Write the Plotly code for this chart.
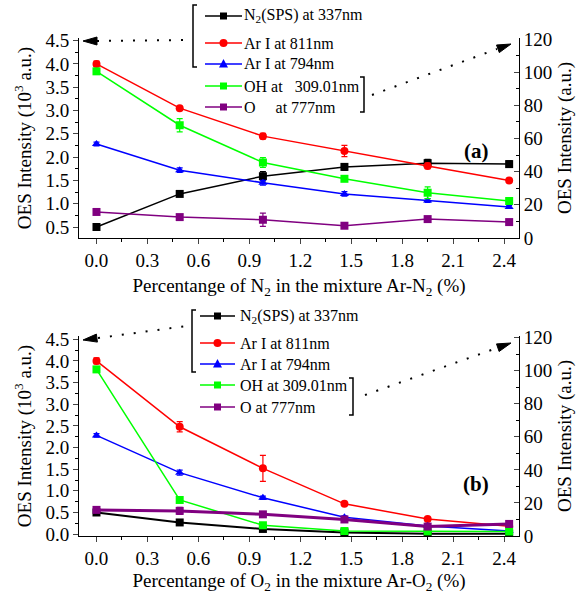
import plotly.graph_objects as go

# ---------------- data ----------------
x_a = [0, 0.49, 0.98, 1.46, 1.95, 2.43]
x_b = [0, 0.49, 0.98, 1.46, 1.95, 2.43]

n2_a = [0.50, 1.21, 1.59, 1.79, 1.87, 1.85]
n2_a_err = [0.03, 0.04, 0.10, 0.07, 0.08, 0.07]
ar811_a = [4.00, 3.05, 2.45, 2.13, 1.81, 1.50]
ar811_a_err = [0.06, 0.03, 0.06, 0.12, 0.06, 0.03]
ar794_a = [2.28, 1.72, 1.45, 1.21, 1.07, 0.93]
ar794_a_err = [0.04, 0.05, 0.05, 0.05, 0.04, 0.03]
oh_a = [100.5, 68.0, 45.5, 35.7, 27.3, 22.3]
oh_a_err = [1.5, 4.0, 3.0, 1.5, 3.5, 2.0]
o_a = [15.7, 12.6, 11.0, 7.4, 11.4, 9.6]
o_a_err = [1.5, 1.5, 4.0, 1.0, 1.0, 1.0]

n2_b = [0.50, 0.27, 0.12, 0.04, 0.01, 0.01]
n2_b_err = [0.03, 0.03, 0.02, 0.02, 0.01, 0.01]
ar811_b = [4.00, 2.48, 1.52, 0.70, 0.35, 0.18]
ar811_b_err = [0.07, 0.12, 0.30, 0.03, 0.03, 0.02]
ar794_b = [2.28, 1.42, 0.84, 0.39, 0.19, 0.07]
ar794_b_err = [0.04, 0.06, 0.04, 0.03, 0.03, 0.02]
oh_b = [100.8, 21.8, 6.5, 3.0, 2.8, 2.7]
oh_b_err = [1.0, 1.0, 1.0, 0.5, 0.5, 0.5]
o_b = [15.8, 15.2, 13.1, 10.0, 5.7, 7.3]
o_b_err = [1.0, 2.2, 1.0, 1.0, 1.0, 0.5]

names_a = ["N<sub>2</sub>(SPS) at 337nm", "Ar I at 811nm", "Ar I at 794nm",
           "OH at&nbsp;&nbsp; 309.01nm", "O&nbsp;&nbsp;&nbsp;&nbsp;&nbsp;at 777nm"]
names_b = ["N<sub>2</sub>(SPS) at 337nm", "Ar I at 811nm", "Ar I at 794nm",
           "OH at 309.01nm", "O at 777nm"]
colors = ["#000000", "#ff0000", "#0000ff", "#00ff00", "#800080"]
symbols = ["square", "circle", "triangle-up", "square", "square"]

W, H = 581, 594
L, R = 79, 62
FONT = "Liberation Serif, Times New Roman, serif"


def px(p):
    return (p - L) / (W - L - R)


def py(p):
    return 1 - p / H


fig = go.Figure()

series_a = [(n2_a, n2_a_err, "y"), (ar811_a, ar811_a_err, "y"), (ar794_a, ar794_a_err, "y"),
            (oh_a, oh_a_err, "y2"), (o_a, o_a_err, "y2")]
series_b = [(n2_b, n2_b_err, "y3"), (ar811_b, ar811_b_err, "y3"), (ar794_b, ar794_b_err, "y3"),
            (oh_b, oh_b_err, "y4"), (o_b, o_b_err, "y4")]

for i, (vals, err, yax) in enumerate(series_a):
    fig.add_trace(go.Scatter(
        x=x_a, y=vals, xaxis="x", yaxis=yax, name=names_a[i], showlegend=False,
        mode="lines+markers", line=dict(color=colors[i], width=1.5),
        marker=dict(symbol=symbols[i], size=8, color=colors[i]),
        error_y=dict(type="data", array=err, visible=True, color=colors[i], thickness=1.2, width=3)))

for i, (vals, err, yax) in enumerate(series_b):
    lw = 1.5
    if i == 0:
        lw = 2
    if i == 4:
        lw = 3
    fig.add_trace(go.Scatter(
        x=x_b, y=vals, xaxis="x2", yaxis=yax, name=names_b[i], showlegend=False,
        mode="lines+markers", line=dict(color=colors[i], width=lw),
        marker=dict(symbol=symbols[i], size=8, color=colors[i]),
        error_y=dict(type="data", array=err, visible=True, color=colors[i], thickness=1.2, width=3)))

dom_a = [py(238), py(38)]
dom_b = [py(536), py(336)]

tickfont = dict(family=FONT, size=19, color="black")
titlefont = dict(family=FONT, size=19, color="black")

xcommon = dict(range=[-0.103, 2.488], tickmode="linear", tick0=0, dtick=0.3, tickformat=".1f",
               ticks="outside", ticklen=5, tickwidth=1, showline=True, linecolor="black", linewidth=1,
               showgrid=False, zeroline=False, tickfont=tickfont, automargin=False,
               minor=dict(dtick=0.15, ticks="outside", ticklen=3, tickcolor="black"))
yl_common = dict(tickmode="linear", dtick=0.5, tickformat=".1f", ticks="outside", ticklen=5,
                 showline=True, linecolor="black", linewidth=1, showgrid=False, zeroline=False,
                 tickfont=tickfont, automargin=False,
                 title=dict(text="OES Intensity (10<sup>3</sup> a.u.)", font=titlefont, standoff=8),
                 minor=dict(dtick=0.25, ticks="outside", ticklen=3, tickcolor="black"))
yr_common = dict(tickmode="linear", tick0=0, dtick=20, ticks="inside", ticklen=5, side="right",
                 showline=True, linecolor="black", linewidth=1, showgrid=False, zeroline=False,
                 tickfont=tickfont, automargin=False,
                 title=dict(text="OES Intensity (a.u.)", font=titlefont, standoff=6),
                 minor=dict(dtick=10, ticks="inside", ticklen=3, tickcolor="black"))

fig.update_layout(
    width=W, height=H, margin=dict(l=L, r=R, t=0, b=0, autoexpand=False),
    paper_bgcolor="white", plot_bgcolor="white",
    font=dict(family=FONT, size=16, color="black"),
    showlegend=False,
    xaxis=dict(domain=[0, 1], anchor="y",
               title=dict(text="Percentange of N<sub>2</sub> in the mixture Ar-N<sub>2</sub> (%)",
                          font=titlefont, standoff=8), **xcommon),
    yaxis=dict(domain=dom_a, anchor="x", range=[0.264, 4.556], tick0=0.5, **yl_common),
    yaxis2=dict(domain=dom_a, anchor="x", overlaying="y", range=[0, 120.6], **yr_common),
    xaxis2=dict(domain=[0, 1], anchor="y3",
                title=dict(text="Percentange of O<sub>2</sub> in the mixture Ar-O<sub>2</sub> (%)",
                           font=titlefont, standoff=8), **xcommon),
    yaxis3=dict(domain=dom_b, anchor="x2", range=[-0.043, 4.576], tick0=0, **yl_common),
    yaxis4=dict(domain=dom_b, anchor="x2", overlaying="y3", range=[0, 121], **yr_common),
)

# ---------- legend keys, brackets, dotted leaders and arrowheads (paper coords) ----------
def bracket_left(x, y0, y1):
    return f"M {px(x+4)} {py(y0)} L {px(x)} {py(y0)} L {px(x)} {py(y1)} L {px(x+4)} {py(y1)}"


def bracket_right(x, y0, y1):
    return f"M {px(x-4)} {py(y0)} L {px(x)} {py(y0)} L {px(x)} {py(y1)} L {px(x-4)} {py(y1)}"


def tri(pts):
    return "M " + " L ".join(f"{px(a)} {py(b)}" for a, b in pts) + " Z"


shapes = []
annotations = []


def legend_block(names, rows, x0, x1, xt):
    xm = (x0 + x1) / 2
    for i, (name, yy) in enumerate(zip(names, rows)):
        c = colors[i]
        shapes.append(dict(type="line", xref="paper", yref="paper", x0=px(x0), x1=px(x1),
                           y0=py(yy), y1=py(yy), line=dict(color=c, width=1.5)))
        s = 3.5
        if symbols[i] == "square":
            shapes.append(dict(type="rect", xref="paper", yref="paper", x0=px(xm - s), x1=px(xm + s),
                               y0=py(yy + s), y1=py(yy - s), fillcolor=c, line=dict(color=c, width=0)))
        elif symbols[i] == "circle":
            shapes.append(dict(type="circle", xref="paper", yref="paper", x0=px(xm - 4), x1=px(xm + 4),
                               y0=py(yy + 4), y1=py(yy - 4), fillcolor=c, line=dict(color=c, width=0)))
        else:
            shapes.append(dict(type="path", xref="paper", yref="paper",
                               path=tri([(xm, yy - 5), (xm - 4.5, yy + 3.5), (xm + 4.5, yy + 3.5)]),
                               fillcolor=c, line=dict(color=c, width=0)))
        annotations.append(dict(text=name, x=px(xt), y=py(yy), xref="paper", yref="paper",
                                xanchor="left", yanchor="middle", showarrow=False,
                                font=dict(family=FONT, size=16, color="black")))


legend_block(names_a, [16, 43, 64, 86, 107], 205, 242, 242)
legend_block(names_b, [316, 343, 364, 385, 407], 200, 235, 238)

for path in [bracket_left(193, 5, 67), bracket_right(364, 77, 112),
             bracket_left(192, 310, 372), bracket_right(353, 378, 415)]:
    shapes.append(dict(type="path", path=path, xref="paper", yref="paper",
                       line=dict(color="black", width=1.5)))

dots = [((97, 41), (187, 40)), ((372, 95), (497, 49)),
        ((98, 338), (187, 326)), ((365, 395), (497, 348))]
for (a, b) in dots:
    shapes.append(dict(type="line", xref="paper", yref="paper", x0=px(a[0]), y0=py(a[1]),
                       x1=px(b[0]), y1=py(b[1]), line=dict(color="black", width=2, dash="2px,10px")))

arrows = [[(83, 41), (97, 37), (97, 45)],
          [(511, 44), (499.3, 52.6), (496.5, 45.0)],
          [(83, 340), (97.4, 342.1), (96.4, 334.1)],
          [(511, 343), (499.1, 351.5), (496.5, 343.9)]]
for pts in arrows:
    shapes.append(dict(type="path", path=tri(pts), xref="paper", yref="paper",
                       fillcolor="black", line=dict(color="black", width=1)))

annotations.append(dict(text="<b>(a)</b>", x=px(491), y=py(137), xref="paper", yref="paper",
                        showarrow=False, font=dict(family=FONT, size=21, color="black")))
annotations.append(dict(text="<b>(b)</b>", x=px(491), y=py(498), xref="paper", yref="paper",
                        showarrow=False, font=dict(family=FONT, size=21, color="black")))

fig.update_layout(shapes=shapes, annotations=annotations)

fig.write_html("out.html")
